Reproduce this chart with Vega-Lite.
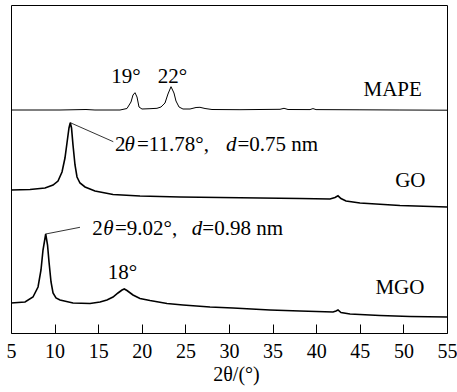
{
 "$schema": "https://vega.github.io/schema/vega-lite/v6.json",
 "width": 436, "height": 328,
 "autosize": "none",
 "padding": {"left": 11, "top": 5, "right": 10, "bottom": 59},
 "background": "white",
 "config": {"view": {"stroke": "black", "strokeWidth": 1}, "font": "Times New Roman"},
 "datasets": {
  "curves": [
   {"s":"MAPE","t":5,"v":223},{"s":"MAPE","t":10.62,"v":223},{"s":"MAPE","t":13.6,"v":223.5},{"s":"MAPE","t":14.63,"v":223},{"s":"MAPE","t":17.5,"v":223},{"s":"MAPE","t":18.3,"v":224.5},{"s":"MAPE","t":18.76,"v":231},{"s":"MAPE","t":18.99,"v":238},{"s":"MAPE","t":19.22,"v":240.3},{"s":"MAPE","t":19.45,"v":236},{"s":"MAPE","t":19.68,"v":226},{"s":"MAPE","t":20.02,"v":224},{"s":"MAPE","t":20.94,"v":224.3},{"s":"MAPE","t":21.74,"v":224.7},{"s":"MAPE","t":22.2,"v":226},{"s":"MAPE","t":22.66,"v":230},{"s":"MAPE","t":23.0,"v":239},{"s":"MAPE","t":23.35,"v":246.3},{"s":"MAPE","t":23.69,"v":240},{"s":"MAPE","t":23.92,"v":232},{"s":"MAPE","t":24.27,"v":226},{"s":"MAPE","t":24.72,"v":224},{"s":"MAPE","t":25.53,"v":224},{"s":"MAPE","t":26.22,"v":225.5},{"s":"MAPE","t":26.67,"v":225.7},{"s":"MAPE","t":27.25,"v":224.5},{"s":"MAPE","t":28.05,"v":223.5},{"s":"MAPE","t":31.26,"v":223.3},{"s":"MAPE","t":35.85,"v":223.7},{"s":"MAPE","t":36.31,"v":224.7},{"s":"MAPE","t":36.77,"v":223.5},{"s":"MAPE","t":39.29,"v":223.4},{"s":"MAPE","t":39.63,"v":224.4},{"s":"MAPE","t":39.98,"v":223.4},{"s":"MAPE","t":45.02,"v":223.2},{"s":"MAPE","t":49.6,"v":223},{"s":"MAPE","t":55,"v":222.8},
   {"s":"GO","t":5,"v":143},{"s":"GO","t":7.18,"v":143.5},{"s":"GO","t":8.9,"v":145},{"s":"GO","t":9.82,"v":148},{"s":"GO","t":10.39,"v":152},{"s":"GO","t":10.85,"v":161},{"s":"GO","t":11.19,"v":175},{"s":"GO","t":11.42,"v":190},{"s":"GO","t":11.65,"v":205},{"s":"GO","t":11.8,"v":210.3},{"s":"GO","t":11.94,"v":205},{"s":"GO","t":12.11,"v":188},{"s":"GO","t":12.34,"v":168},{"s":"GO","t":12.57,"v":156},{"s":"GO","t":12.91,"v":150},{"s":"GO","t":13.49,"v":146},{"s":"GO","t":14.63,"v":142},{"s":"GO","t":16.7,"v":138.5},{"s":"GO","t":19.79,"v":137},{"s":"GO","t":24.38,"v":136},{"s":"GO","t":28.97,"v":135.5},{"s":"GO","t":33.56,"v":135},{"s":"GO","t":38.14,"v":134.5},{"s":"GO","t":41.58,"v":134},{"s":"GO","t":42.16,"v":135.5},{"s":"GO","t":42.5,"v":137.2},{"s":"GO","t":42.84,"v":134.5},{"s":"GO","t":43.42,"v":132},{"s":"GO","t":45.02,"v":130},{"s":"GO","t":49.6,"v":127.5},{"s":"GO","t":55,"v":126},
   {"s":"MGO","t":5,"v":30},{"s":"MGO","t":6.61,"v":31},{"s":"MGO","t":7.52,"v":36},{"s":"MGO","t":8.1,"v":46},{"s":"MGO","t":8.44,"v":63},{"s":"MGO","t":8.67,"v":83},{"s":"MGO","t":8.98,"v":99},{"s":"MGO","t":9.19,"v":88},{"s":"MGO","t":9.36,"v":71},{"s":"MGO","t":9.59,"v":51},{"s":"MGO","t":9.82,"v":40},{"s":"MGO","t":10.16,"v":35},{"s":"MGO","t":10.62,"v":33},{"s":"MGO","t":12.11,"v":30},{"s":"MGO","t":14.06,"v":29.5},{"s":"MGO","t":15.21,"v":31},{"s":"MGO","t":16.0,"v":33},{"s":"MGO","t":16.7,"v":36},{"s":"MGO","t":17.27,"v":40},{"s":"MGO","t":17.73,"v":43},{"s":"MGO","t":17.99,"v":44},{"s":"MGO","t":18.3,"v":42.5},{"s":"MGO","t":18.99,"v":38},{"s":"MGO","t":19.79,"v":34.5},{"s":"MGO","t":20.94,"v":32.5},{"s":"MGO","t":22.89,"v":29.5},{"s":"MGO","t":24.72,"v":28},{"s":"MGO","t":27.82,"v":26},{"s":"MGO","t":30.46,"v":25},{"s":"MGO","t":34.7,"v":23},{"s":"MGO","t":38.14,"v":22},{"s":"MGO","t":41.93,"v":21},{"s":"MGO","t":42.27,"v":22},{"s":"MGO","t":42.5,"v":23},{"s":"MGO","t":42.84,"v":20.5},{"s":"MGO","t":43.88,"v":19},{"s":"MGO","t":47.32,"v":17.5},{"s":"MGO","t":50.76,"v":16.5},{"s":"MGO","t":55,"v":16}
  ],
  "leaders": [
   {"t":11.8,"v":210.3,"t2":16.73,"v2":191.3},
   {"t":8.98,"v":99,"t2":12.91,"v2":105.7}
  ],
  "labels": [
   {"label":"19°","t":18.19,"v":250.3},
   {"label":"22°","t":23.52,"v":250.3},
   {"label":"MAPE","t":48.77,"v":237},
   {"label":"GO","t":50.8,"v":145.7},
   {"label":"18°","t":17.79,"v":54},
   {"label":"MGO","t":49.6,"v":39}
  ],
  "notes": [
   {"label":"2","t":16.93,"v":182.3},
   {"label":"=11.78°,","t":19.45,"v":182.3},
   {"label":"=0.75 nm","t":30.97,"v":182.3},
   {"label":"2","t":14.32,"v":98},
   {"label":"=9.02°,","t":16.93,"v":98},
   {"label":"=0.98 nm","t":26.94,"v":98}
  ],
  "notesItalic": [
   {"label":"θ","t":18.02,"v":182.3},
   {"label":"d","t":29.66,"v":182.3},
   {"label":"θ","t":15.58,"v":98},
   {"label":"d","t":25.72,"v":98}
  ]
 },
 "encoding": {
  "x": {"field":"t","type":"quantitative","scale":{"domain":[5,55],"nice":false},
   "axis":{"values":[5,10,15,20,25,30,35,40,45,50,55],"tickSize":-9,"tickColor":"black","tickWidth":1,"domain":false,"grid":false,
    "labelFont":"Times New Roman","labelFontSize":20,"labelColor":"black","labelPadding":17,"labelFlush":false,"labelOverlap":false,
    "title":"2θ/(°)","titleFont":"Times New Roman","titleFontSize":20,"titleFontWeight":"normal","titleColor":"black","titlePadding":3,"titleX":225,"titleAlign":"center"}},
  "y": {"field":"v","type":"quantitative","scale":{"domain":[0,328],"nice":false},"axis":null}
 },
 "layer": [
  {"data":{"name":"curves"},"transform":[{"filter":"datum.s==='MAPE'"}],
   "mark":{"type":"line","color":"black","strokeWidth":1},"encoding":{"detail":{"field":"s"}}},
  {"data":{"name":"curves"},"transform":[{"filter":"datum.s!=='MAPE'"}],
   "mark":{"type":"line","color":"black","strokeWidth":1.6},"encoding":{"detail":{"field":"s"}}},
  {"data":{"name":"leaders"},"mark":{"type":"rule","color":"black","strokeWidth":0.8},
   "encoding":{"x2":{"field":"t2"},"y2":{"field":"v2"}}},
  {"data":{"name":"labels"},"mark":{"type":"text","align":"center","baseline":"alphabetic","font":"Times New Roman","fontSize":21,"color":"black"},
   "encoding":{"text":{"field":"label"}}},
  {"data":{"name":"notes"},"mark":{"type":"text","align":"left","baseline":"alphabetic","font":"Times New Roman","fontSize":21,"color":"black"},
   "encoding":{"text":{"field":"label"}}},
  {"data":{"name":"notesItalic"},"mark":{"type":"text","align":"left","baseline":"alphabetic","font":"Times New Roman","fontStyle":"italic","fontSize":21,"color":"black"},
   "encoding":{"text":{"field":"label"}}}
 ]
}
